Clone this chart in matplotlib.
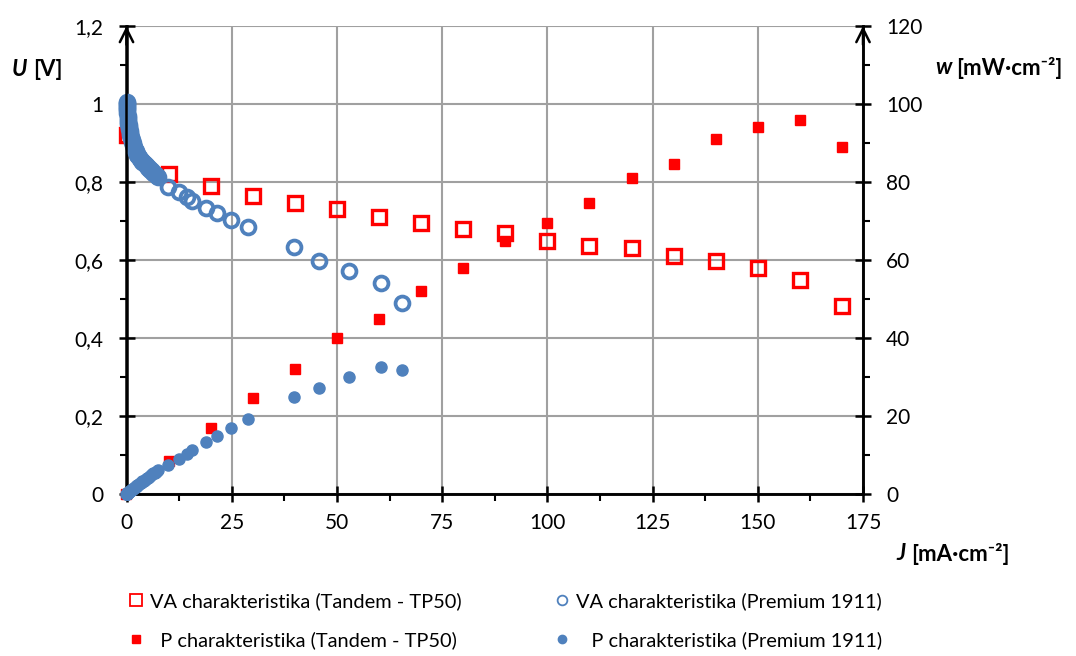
import matplotlib.pyplot as plt
from matplotlib.lines import Line2D
from matplotlib.ticker import FuncFormatter, MultipleLocator

plt.rcParams['font.family'] = ['Lato', 'DejaVu Sans']

# Tandem - TP50 measurement
tandem_j = [0, 10, 20, 30, 40, 50, 60, 70, 80, 90, 100, 110, 120, 130, 140, 150, 160, 170]
tandem_u = [0.92, 0.82, 0.79, 0.765, 0.745, 0.73, 0.71, 0.695, 0.68, 0.67, 0.65, 0.635,
            0.63, 0.61, 0.598, 0.58, 0.549, 0.482]
tandem_p = [0, 8.5, 17, 24.5, 32, 40, 45, 52, 58, 65, 69.5, 74.5, 81, 84.5, 91, 94, 96, 89]

# Premium 1911 measurement
premium_j = [0.0, 0.02, 0.05, 0.08, 0.1, 0.13, 0.15, 0.2, 0.25, 0.3, 0.35, 0.4, 0.45, 0.5,
             0.57, 0.65, 0.72, 0.8, 0.9, 1.0, 1.1, 1.2, 1.32, 1.45, 1.57, 1.7, 1.85, 2.0,
             2.15, 2.3, 2.45, 2.6, 2.8, 3.0, 3.2, 3.4, 3.6, 3.8, 4.05, 4.3, 4.55, 4.8, 5.05,
             5.3, 5.55, 5.8, 6.1, 6.4, 6.7, 7.0, 7.3, 7.6,
             9.9, 12.5, 14.4, 15.5, 18.9, 21.4, 24.8, 28.8, 39.8, 45.8, 52.9, 60.4, 65.4]
premium_u = [1.005, 1.003, 1.0, 0.996, 0.992, 0.988, 0.984, 0.976, 0.969, 0.963, 0.958, 0.953,
             0.949, 0.945, 0.94, 0.935, 0.93, 0.926, 0.921, 0.916, 0.912, 0.908, 0.903, 0.899,
             0.895, 0.891, 0.887, 0.883, 0.879, 0.876, 0.873, 0.870, 0.866, 0.863, 0.860,
             0.857, 0.854, 0.852, 0.849, 0.846, 0.843, 0.840, 0.837, 0.835, 0.832, 0.830,
             0.827, 0.824, 0.821, 0.818, 0.815, 0.812,
             0.788, 0.774, 0.762, 0.751, 0.733, 0.72, 0.703, 0.685, 0.633, 0.598, 0.572,
             0.54, 0.491]
premium_p = [0, 0.02, 0.05, 0.08, 0.1, 0.13, 0.15, 0.2, 0.24, 0.29, 0.34, 0.38, 0.43, 0.47,
             0.54, 0.61, 0.67, 0.74, 0.83, 0.92, 1.0, 1.09, 1.19, 1.3, 1.41, 1.51, 1.64, 1.77,
             1.89, 2.01, 2.14, 2.26, 2.42, 2.59, 2.75, 2.91, 3.07, 3.24, 3.44, 3.64, 3.84,
             4.03, 4.23, 4.43, 4.62, 4.81, 5.04, 5.27, 5.5, 5.73, 5.95, 6.17,
             7.4, 8.9, 10.3, 11.3, 13.3, 15.0, 16.8, 19.2, 24.9, 27.2, 30.0, 32.6, 31.8]

labels = ['VA charakteristika (Tandem - TP50)', 'VA charakteristika (Premium 1911)',
          '  P charakteristika (Tandem - TP50)', '   P charakteristika (Premium 1911)']

red = '#ff0000'
blue = '#4f81bd'
fs = 15

fig = plt.figure(figsize=(10.76, 6.56), dpi=100)
ax = fig.add_axes([126.5 / 1076, 1 - 494 / 656, (863 - 126.5) / 1076, 468 / 656])
ax2 = ax.twinx()

ax.plot(tandem_j, tandem_u, 's', ms=10, mfc='none', mec=red, mew=2.4, clip_on=False, zorder=3)
ax.plot(premium_j, premium_u, 'o', ms=10, mfc='none', mec=blue, mew=2.7, clip_on=False, zorder=4)
ax2.plot(tandem_j, tandem_p, 's', ms=7, mfc=red, mec=red, clip_on=False, zorder=3)
ax2.plot(premium_j, premium_p, 'o', ms=8, mfc=blue, mec=blue, clip_on=False, zorder=4)

ax.set_xlim(0, 175)
ax.set_ylim(0, 1.2)
ax2.set_ylim(0, 120)

ax.xaxis.set_major_locator(MultipleLocator(25))
ax.xaxis.set_minor_locator(MultipleLocator(12.5))
ax.yaxis.set_major_locator(MultipleLocator(0.2))
ax.yaxis.set_minor_locator(MultipleLocator(0.1))
ax2.yaxis.set_major_locator(MultipleLocator(20))
ax2.yaxis.set_minor_locator(MultipleLocator(10))
ax.yaxis.set_major_formatter(FuncFormatter(lambda v, p: ('%g' % round(v, 1)).replace('.', ',')))

ax.grid(True, which='major', color='#a0a0a0', lw=1.5)
ax.set_axisbelow(True)

for a in (ax, ax2):
    a.spines['top'].set_visible(False)
    for s in ('left', 'right', 'bottom'):
        a.spines[s].set_linewidth(1.8)
    a.tick_params(which='major', direction='inout', length=11, width=1.8, labelsize=fs, pad=6)
    a.tick_params(which='minor', direction='out', length=5, width=1.5)
ax.tick_params(axis='y', pad=11)
ax2.tick_params(axis='y', pad=11)
ax.tick_params(axis='x', pad=8)

# arrow heads on both vertical axes
for xa in (0, 1):
    ax.annotate('', xy=(xa, 1.0), xytext=(xa, 0.96), xycoords='axes fraction',
                arrowprops=dict(arrowstyle='->', lw=1.8, color='black',
                                mutation_scale=24, shrinkA=0, shrinkB=0))

# axis titles
tfs = 16
fig.text(12 / 1076, 1 - 70 / 656, 'U', fontsize=tfs, fontweight='bold', style='italic', va='center')
fig.text(33 / 1076, 1 - 70 / 656, '[V]', fontsize=tfs, fontweight='bold', va='center')
fig.text(935 / 1076, 1 - 68 / 656, 'w', fontsize=tfs, fontweight='bold', style='italic', va='center')
fig.text(956 / 1076, 1 - 68 / 656, '[mW·cm⁻²]', fontsize=tfs, fontweight='bold', va='center')
fig.text(896 / 1076, 1 - 554 / 656, 'J', fontsize=tfs, fontweight='bold', style='italic', va='center')
fig.text(911 / 1076, 1 - 554 / 656, '[mA·cm⁻²]', fontsize=tfs, fontweight='bold', va='center')

handles = [
    Line2D([], [], ls='none', marker='s', ms=8, mfc='none', mec=red, mew=1.3),
    Line2D([], [], ls='none', marker='s', ms=6, mfc=red, mec=red),
    Line2D([], [], ls='none', marker='o', ms=7, mfc='none', mec=blue, mew=1.3),
    Line2D([], [], ls='none', marker='o', ms=6, mfc=blue, mec=blue),
]
fig.legend(handles, [labels[0], labels[2], labels[1], labels[3]], ncol=2, frameon=False,
           fontsize=14.4, loc='upper left', bbox_to_anchor=(130 / 1076, 1 - 592 / 656),
           handlelength=0.6, handletextpad=0.4, columnspacing=4.7, labelspacing=1.05,
           borderaxespad=0, borderpad=0)

fig.savefig('out.png', dpi=100)
